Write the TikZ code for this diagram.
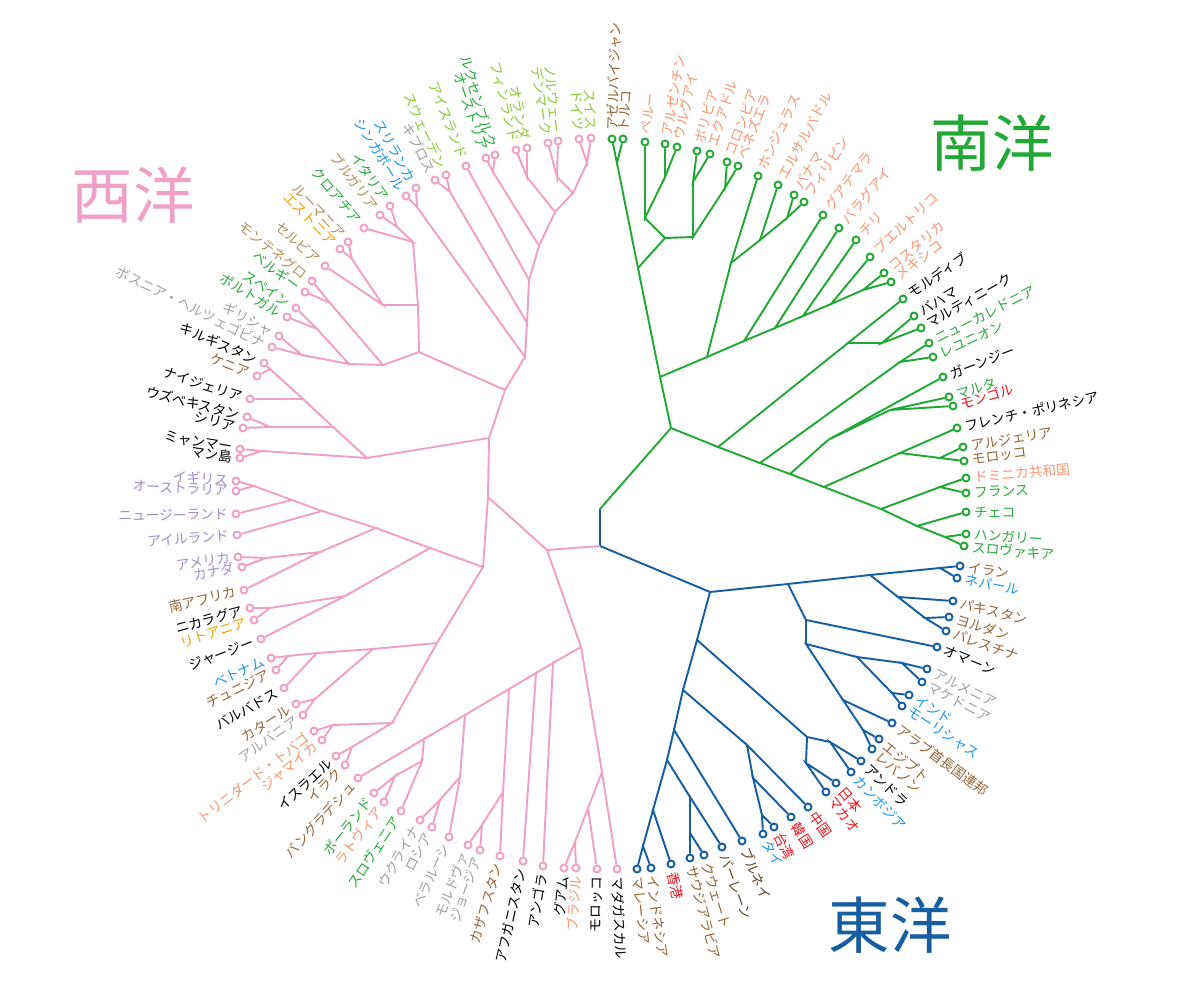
\documentclass[tikz,border=0pt]{standalone}
\usepackage{fontspec}
\setmainfont{Noto Sans CJK JP}
\usetikzlibrary{calc}
\definecolor{pinkbr}{RGB}{240,160,196}
\definecolor{grnbr}{RGB}{34,168,52}
\definecolor{blubr}{RGB}{22,94,160}
\definecolor{cBrown}{RGB}{150,100,55}
\definecolor{cDark}{RGB}{90,70,40}
\definecolor{cSalmon}{RGB}{246,150,115}
\definecolor{cGreen}{RGB}{40,170,60}
\definecolor{cLime}{RGB}{140,200,60}
\definecolor{cRed}{RGB}{235,20,30}
\definecolor{cCyan}{RGB}{30,150,230}
\definecolor{cGray}{RGB}{160,160,160}
\definecolor{cPurple}{RGB}{160,140,200}
\definecolor{cOrange}{RGB}{240,160,0}
\definecolor{cTan}{RGB}{175,145,90}
\newcommand{\lblfont}{\fontsize{7.8}{8}\selectfont}
\tikzset{
  tip/.style={circle, draw, fill=white, line width=1.1pt,
              minimum size=0.14cm, inner sep=0pt},
  lbl/.style={font=\lblfont, inner sep=0.5pt},
  brG/.style={draw=grnbr, line width=1.1pt},
  brB/.style={draw=blubr, line width=1.1pt},
  brP/.style={draw=pinkbr, line width=1.1pt},
  title/.style={font=\fontsize{35}{40}\selectfont}
}
% leaf: name, x, y, label colour, text
\newcommand{\tipnode}[5]{%
  \pgfmathsetmacro{\ang}{atan2(509-#3,#2-600)}%
  \pgfmathsetmacro{\lx}{#2+7*cos(\ang)}%
  \pgfmathsetmacro{\ly}{#3-7*sin(\ang)}%
  \pgfmathtruncatemacro{\flip}{cos(\ang)<0}%
  \node[tip, draw=\clade] (#1) at (#2,#3) {};%
  \ifnum\flip=1
    \node[lbl, text=#4, rotate=\ang+180, anchor=east] at (\lx,\ly) {#5};%
  \else
    \node[lbl, text=#4, rotate=\ang, anchor=west] at (\lx,\ly) {#5};%
  \fi}

\begin{document}
\begin{tikzpicture}[x=0.02cm, y=-0.02cm]
\useasboundingbox (0,0) rectangle (1200,999);

% --- titles ---
\node[title, text=pinkbr] (tw) at (133,195) {西洋};
\node[title, text=grnbr] (ts) at (992,143) {南洋};
\node[title, text=blubr] (te) at (890,925) {東洋};

% --- green leaves ---
\def\clade{grnbr}
\tipnode{aze}{612}{139}{cBrown}{アゼルバイジャン}
\tipnode{tur}{623}{139}{cBrown}{トルコ}
\tipnode{per}{645}{142}{cSalmon}{ペルー}
\tipnode{arg}{665}{144}{cSalmon}{アルゼンチン}
\tipnode{uru}{677}{147}{cSalmon}{ウルグアイ}
\tipnode{bol}{697}{151}{cSalmon}{ボリビア}
\tipnode{ecu}{710}{154}{cSalmon}{エクアドル}
\tipnode{col}{727}{162}{cSalmon}{コロンビア}
\tipnode{ven}{738}{166}{cSalmon}{ベネズエラ}
\tipnode{hon}{758}{176}{cSalmon}{ホンジュラス}
\tipnode{els}{778}{185}{cSalmon}{エルサルバドル}
\tipnode{pan}{794}{195}{cSalmon}{パナマ}
\tipnode{phi}{804}{202}{cSalmon}{フィリピン}
\tipnode{gua}{823}{215}{cSalmon}{グアテマラ}
\tipnode{par}{839}{228}{cSalmon}{パラグアイ}
\tipnode{chi}{856}{240}{cSalmon}{チリ}
\tipnode{pue}{870}{257}{cSalmon}{プエルトリコ}
\tipnode{cos}{884}{273}{cSalmon}{コスタリカ}
\tipnode{mex}{891}{282}{cSalmon}{メキシコ}
\tipnode{mdv}{903}{299}{black}{モルディブ}
\tipnode{bah}{914}{316}{black}{バハマ}
\tipnode{mtq}{921}{328}{black}{マルティニーク}
\tipnode{ncl}{929}{343}{cGreen}{ニューカレドニア}
\tipnode{reu}{933}{357}{cGreen}{レユニオン}
\tipnode{ggy}{943}{377}{black}{ガーンジー}
\tipnode{mlt}{949}{397}{cGreen}{マルタ}
\tipnode{mng}{953}{406}{cRed}{モンゴル}
\tipnode{pyf}{957}{428}{black}{フレンチ・ポリネシア}
\tipnode{alg}{963}{447}{cBrown}{アルジェリア}
\tipnode{mar}{964}{461}{cBrown}{モロッコ}
\tipnode{dom}{966}{478}{cSalmon}{ドミニカ共和国}
\tipnode{fra}{966}{493}{cGreen}{フランス}
\tipnode{cze}{966}{512}{cGreen}{チェコ}
\tipnode{hun}{966}{534}{cGreen}{ハンガリー}
\tipnode{svk}{964}{546}{cGreen}{スロヴァキア}

% --- blue leaves ---
\def\clade{blubr}
\tipnode{irn}{960}{566}{cBrown}{イラン}
\tipnode{npl}{957}{578}{cCyan}{ネパール}
\tipnode{pak}{953}{601}{cBrown}{パキスタン}
\tipnode{jor}{949}{617}{cBrown}{ヨルダン}
\tipnode{pse}{946}{631}{cBrown}{パレスチナ}
\tipnode{omn}{937}{647}{black}{オマーン}
\tipnode{arm}{927}{669}{cGray}{アルメニア}
\tipnode{mkd}{922}{682}{cGray}{マケドニア}
\tipnode{ind}{909}{695}{cCyan}{インド}
\tipnode{mus}{902}{706}{cCyan}{モーリシャス}
\tipnode{are}{892}{723}{cBrown}{アラブ首長国連邦}
\tipnode{egy}{879}{739}{cBrown}{エジプト}
\tipnode{lbn}{872}{749}{cBrown}{レバノン}
\tipnode{adr}{861}{761}{black}{アンドラ}
\tipnode{khm}{851}{772}{cCyan}{カンボジア}
\tipnode{jpn}{836}{783}{cRed}{日本}
\tipnode{mac}{826}{792}{cRed}{マカオ}
\tipnode{chn}{808}{807}{cRed}{中国}
\tipnode{kor}{791}{817}{cRed}{韓国}
\tipnode{twn}{774}{827}{cRed}{台湾}
\tipnode{tha}{763}{834}{cCyan}{タイ}
\tipnode{brn}{742}{841}{cDark}{ブルネイ}
\tipnode{bhr}{722}{847}{cDark}{バーレーン}
\tipnode{kwt}{704}{855}{cBrown}{クウェート}
\tipnode{sau}{690}{858}{cBrown}{サウジアラビア}
\tipnode{hkg}{671}{864}{cRed}{香港}
\tipnode{idn}{651}{868}{cBrown}{インドネシア}
\tipnode{mys}{637}{869}{cBrown}{マレーシア}

% --- pink leaves ---
\def\clade{pinkbr}
\tipnode{mdg}{617}{869}{black}{マダガスカル}
\tipnode{mrc}{597}{869}{black}{モロッコ}
\tipnode{bra}{576}{868}{cSalmon}{ブラジル}
\tipnode{gum}{564}{868}{black}{グアム}
\tipnode{ago}{543}{866}{black}{アンゴラ}
\tipnode{afg}{523}{861}{black}{アフガニスタン}
\tipnode{kaz}{500}{856}{cBrown}{カザフスタン}
\tipnode{geo}{480}{850}{cGray}{ジョージア}
\tipnode{mda}{468}{845}{cGray}{モルドヴァ}
\tipnode{blr}{449}{837}{cGray}{ベラルーシ}
\tipnode{rus}{432}{827}{cGray}{ロシア}
\tipnode{ukr}{420}{820}{cGray}{ウクライナ}
\tipnode{svn}{401}{811}{cGreen}{スロヴェニア}
\tipnode{lva}{384}{802}{cSalmon}{ラトヴィア}
\tipnode{pol}{374}{793}{cGreen}{ポーランド}
\tipnode{bgd}{358}{778}{cBrown}{バングラデシュ}
\tipnode{irq}{345}{765}{cBrown}{イラク}
\tipnode{isr}{336}{756}{black}{イスラエル}
\tipnode{jam}{322}{740}{cSalmon}{ジャマイカ}
\tipnode{tto}{314}{731}{cSalmon}{トリニダード・トバゴ}
\tipnode{alb}{303}{715}{cGray}{アルバニア}
\tipnode{qat}{296}{704}{cBrown}{カタール}
\tipnode{brb}{284}{688}{black}{バルバドス}
\tipnode{tun}{276}{670}{cBrown}{チュニジア}
\tipnode{vnm}{271}{658}{cCyan}{ベトナム}
\tipnode{jey}{261}{639}{black}{ジャージー}
\tipnode{ltu}{254}{620}{cOrange}{リトアニア}
\tipnode{nic}{250}{608}{black}{ニカラグア}
\tipnode{zaf}{244}{590}{cBrown}{南アフリカ}
\tipnode{can}{242}{567}{cPurple}{カナダ}
\tipnode{usa}{238}{557}{cPurple}{アメリカ}
\tipnode{irl}{237}{535}{cPurple}{アイルランド}
\tipnode{nzl}{236}{514}{cPurple}{ニュージーランド}
\tipnode{aus}{236}{491}{cPurple}{オーストラリア}
\tipnode{gbr}{236}{481}{cPurple}{イギリス}
\tipnode{imn}{240}{458}{black}{マン島}
\tipnode{mmr}{240}{449}{black}{ミャンマー}
\tipnode{syr}{243}{428}{black}{シリア}
\tipnode{uzb}{247}{417}{black}{ウズベキスタン}
\tipnode{nga}{250}{399}{black}{ナイジェリア}
\tipnode{ken}{257}{376}{cBrown}{ケニア}
\tipnode{kgz}{264}{363}{black}{キルギスタン}
\tipnode{bih}{272}{347}{cGray}{ボスニア・ヘルツェゴビナ}
\tipnode{grc}{279}{336}{cGray}{ギリシャ}
\tipnode{prt}{287}{317}{cGreen}{ポルトガル}
\tipnode{esp}{296}{308}{cGreen}{スペイン}
\tipnode{bel}{305}{292}{cGreen}{ベルギー}
\tipnode{mne}{312}{281}{cTan}{モンテネグロ}
\tipnode{srb}{325}{266}{cTan}{セルビア}
\tipnode{est}{340}{249}{cOrange}{エストニア}
\tipnode{rou}{348}{242}{cTan}{ルーマニア}
\tipnode{hrv}{364}{228}{cGreen}{クロアチア}
\tipnode{bgr}{380}{215}{cTan}{ブルガリア}
\tipnode{ita}{390}{206}{cGreen}{イタリア}
\tipnode{sgp}{406}{196}{cCyan}{シンガポール}
\tipnode{lka}{416}{188}{cCyan}{スリランカ}
\tipnode{cyp}{435}{180}{cGray}{キプロス}
\tipnode{swe}{446}{175}{cLime}{スウェーデン}
\tipnode{isl}{466}{166}{cLime}{アイスランド}
\tipnode{aut}{486}{158}{cGreen}{オーストリア}
\tipnode{lux}{495}{155}{cGreen}{ルクセンブルク}
\tipnode{fin}{516}{150}{cLime}{フィンランド}
\tipnode{nld}{527}{148}{cLime}{オランダ}
\tipnode{dnk}{548}{143}{cLime}{デンマーク}
\tipnode{nor}{558}{141}{cLime}{ノルウェー}
\tipnode{deu}{579}{139}{cLime}{ドイツ}
\tipnode{che}{591}{138}{cLime}{スイス}

% --- internal nodes: green ---
\coordinate (r0) at (600,509);
\coordinate (g0) at (671,428);
\coordinate (g1) at (660,377);
\coordinate (g2) at (638,268);
\coordinate (g3) at (617,163);
\coordinate (g4) at (665,238);
\coordinate (g5) at (645,218);
\coordinate (g7) at (665,177);
\coordinate (g6) at (693,237);
\coordinate (g8) at (693,182);
\coordinate (g9) at (725,188);
\coordinate (la0) at (707,357);
\coordinate (la1) at (744,341);
\coordinate (la2) at (775,328);
\coordinate (la3) at (803,316);
\coordinate (la4) at (831,304);
\coordinate (la5) at (863,290);
\coordinate (gH) at (731,263);
\coordinate (gE) at (760,240);
\coordinate (gPF) at (787,218);
\coordinate (gA) at (718,447);
\coordinate (gB) at (848,343);
\coordinate (gC) at (882,343);
\coordinate (gS1) at (760,463);
\coordinate (gNR) at (900,362);
\coordinate (gS2) at (790,474);
\coordinate (gGG) at (828,440);
\coordinate (gMM) at (890,410);
\coordinate (gS3) at (824,487);
\coordinate (gFA) at (900,453);
\coordinate (gAM) at (940,458);
\coordinate (gSE) at (881,509);
\coordinate (gDF) at (940,487);
\coordinate (gCH) at (917,526);
\coordinate (gHS) at (945,537);

% --- internal nodes: blue ---
\coordinate (b0) at (600,546);
\coordinate (b1) at (710,592);
\coordinate (bM) at (788,584);
\coordinate (bX) at (697,640);
\coordinate (bN10) at (870,575);
\coordinate (bN11) at (940,568);
\coordinate (bN12) at (898,597);
\coordinate (bN13) at (925,618);
\coordinate (bO) at (806,620);
\coordinate (bO2) at (806,644);
\coordinate (bAm) at (857,657);
\coordinate (bAr) at (902,663);
\coordinate (bIn) at (892,693);
\coordinate (bAe) at (843,700);
\coordinate (bEg) at (863,730);
\coordinate (bJp) at (807,737);
\coordinate (bAk) at (830,742);
\coordinate (bJm) at (806,763);
\coordinate (bYy) at (683,690);
\coordinate (bN7) at (747,745);
\coordinate (bN8) at (753,778);
\coordinate (bN9) at (762,815);
\coordinate (bN1) at (674,730);
\coordinate (bN2) at (667,760);
\coordinate (bN3) at (653,810);
\coordinate (bN5) at (643,846);
\coordinate (bN4) at (690,797);
\coordinate (bN6) at (690,833);

% --- internal nodes: pink ---
\coordinate (p0) at (547,550);
\coordinate (p1) at (488,497);
\coordinate (p2) at (489,438);
\coordinate (p3) at (483,567);
\coordinate (pL0) at (581,647);
\coordinate (pM1) at (602,772);
\coordinate (pM2) at (588,808);
\coordinate (pM3) at (575,842);
\coordinate (pL1) at (553,663);
\coordinate (pL2) at (536,673);
\coordinate (pL3) at (509,689);
\coordinate (pKZ) at (503,792);
\coordinate (pGM) at (482,825);
\coordinate (pL4) at (465,715);
\coordinate (pBR) at (460,777);
\coordinate (pRU) at (440,800);
\coordinate (pL5) at (424,739);
\coordinate (pSP) at (422,761);
\coordinate (pPL) at (395,776);
\coordinate (pDn) at (437,643);
\coordinate (pVV) at (373,649);
\coordinate (pVB) at (317,653);
\coordinate (pVT) at (288,656);
\coordinate (pAQ) at (315,699);
\coordinate (pJI) at (392,723);
\coordinate (pII) at (352,747);
\coordinate (pTJ) at (333,725);
\coordinate (pLC) at (430,548);
\coordinate (pNJ) at (345,596);
\coordinate (pNL) at (270,608);
\coordinate (pPU) at (376,528);
\coordinate (pGI) at (322,511);
\coordinate (pGN) at (292,500);
\coordinate (pGA) at (254,486);
\coordinate (pUZ) at (320,552);
\coordinate (pUC) at (266,558);
\coordinate (pUP) at (505,390);
\coordinate (pWL) at (367,458);
\coordinate (pMI) at (262,451);
\coordinate (pSY) at (333,427);
\coordinate (pSU) at (270,427);
\coordinate (pNK) at (303,399);
\coordinate (pKK) at (270,369);
\coordinate (pN5) at (525,357);
\coordinate (pN4) at (527,323);
\coordinate (pN3) at (529,280);
\coordinate (pN2) at (539,246);
\coordinate (pN1) at (555,212);
\coordinate (pSDN) at (573,193);
\coordinate (pSD) at (587,163);
\coordinate (pND) at (557,177);
\coordinate (pFN) at (527,177);
\coordinate (pLA) at (493,172);
\coordinate (pSC) at (450,192);
\coordinate (pSS) at (417,207);
\coordinate (pB3) at (419,352);
\coordinate (pB2) at (418,305);
\coordinate (pB1) at (383,305);
\coordinate (pRE) at (352,259);
\coordinate (pHI) at (413,242);
\coordinate (pIB) at (397,227);
\coordinate (pMPG) at (383,365);
\coordinate (pMB) at (330,303);
\coordinate (pPG) at (349,364);
\coordinate (pPE) at (317,329);
\coordinate (pGB) at (302,355);

% --- green branches ---
\draw[brG] (r0) -- (g0);
\draw[brG] (g1) -- (g0) -- (gA);
\draw[brG] (g2) -- (g1) -- (la0);
\draw[brG] (g3) -- (g2) -- (g4);
\draw[brG] (aze) -- (g3) -- (tur);
\draw[brG] (g5) -- (g4) -- (g6);
\draw[brG] (per) -- (g5) -- (g7);
\draw[brG] (arg) -- (g7) -- (uru);
\draw[brG] (g8) -- (g6) -- (g9);
\draw[brG] (bol) -- (g8) -- (ecu);
\draw[brG] (col) -- (g9) -- (ven);
\draw[brG] (gH) -- (la0) -- (la1);
\draw[brG] (hon) -- (gH) -- (gE);
\draw[brG] (els) -- (gE) -- (gPF);
\draw[brG] (pan) -- (gPF) -- (phi);
\draw[brG] (gua) -- (la1) -- (la2);
\draw[brG] (par) -- (la2) -- (la3);
\draw[brG] (chi) -- (la3) -- (la4);
\draw[brG] (pue) -- (la4) -- (la5);
\draw[brG] (cos) -- (la5) -- (mex);
\draw[brG] (gB) -- (gA) -- (gS1);
\draw[brG] (mdv) -- (gB) -- (gC);
\draw[brG] (bah) -- (gC) -- (mtq);
\draw[brG] (gNR) -- (gS1) -- (gS2);
\draw[brG] (ncl) -- (gNR) -- (reu);
\draw[brG] (gGG) -- (gS2) -- (gS3);
\draw[brG] (ggy) -- (gGG) -- (gMM);
\draw[brG] (mlt) -- (gMM) -- (mng);
\draw[brG] (gFA) -- (gS3) -- (gSE);
\draw[brG] (pyf) -- (gFA) -- (gAM);
\draw[brG] (alg) -- (gAM) -- (mar);
\draw[brG] (gDF) -- (gSE) -- (gCH);
\draw[brG] (dom) -- (gDF) -- (fra);
\draw[brG] (cze) -- (gCH) -- (gHS);
\draw[brG] (hun) -- (gHS) -- (svk);

% --- blue branches ---
\draw[brB] (r0) -- (b0) -- (b1);
\draw[brB] (bM) -- (b1) -- (bX);
\draw[brB] (bN10) -- (bM) -- (bO);
\draw[brB] (bN11) -- (bN10) -- (bN12);
\draw[brB] (irn) -- (bN11) -- (npl);
\draw[brB] (pak) -- (bN12) -- (bN13);
\draw[brB] (jor) -- (bN13) -- (pse);
\draw[brB] (omn) -- (bO) -- (bO2);
\draw[brB] (bAm) -- (bO2) -- (bAe);
\draw[brB] (bAr) -- (bAm) -- (bIn);
\draw[brB] (arm) -- (bAr) -- (mkd);
\draw[brB] (ind) -- (bIn) -- (mus);
\draw[brB] (are) -- (bAe) -- (bEg);
\draw[brB] (egy) -- (bEg) -- (lbn);
\draw[brB] (bJp) -- (bX) -- (bYy);
\draw[brB] (bAk) -- (bJp) -- (bJm);
\draw[brB] (adr) -- (bAk) -- (khm);
\draw[brB] (jpn) -- (bJm) -- (mac);
\draw[brB] (bN7) -- (bYy) -- (bN1);
\draw[brB] (chn) -- (bN7) -- (bN8);
\draw[brB] (kor) -- (bN8) -- (bN9);
\draw[brB] (tha) -- (bN9) -- (twn);
\draw[brB] (brn) -- (bN1) -- (bN2);
\draw[brB] (bN3) -- (bN2) -- (bN4);
\draw[brB] (hkg) -- (bN3) -- (bN5);
\draw[brB] (mys) -- (bN5) -- (idn);
\draw[brB] (bhr) -- (bN4) -- (bN6);
\draw[brB] (sau) -- (bN6) -- (kwt);

% --- pink branches ---
\draw[brP] (b0) -- (p0);
\draw[brP] (p1) -- (p0) -- (pL0);
\draw[brP] (pM1) -- (pL0) -- (pL1);
\draw[brP] (mdg) -- (pM1) -- (pM2);
\draw[brP] (mrc) -- (pM2) -- (pM3);
\draw[brP] (bra) -- (pM3) -- (gum);
\draw[brP] (ago) -- (pL1) -- (pL2);
\draw[brP] (afg) -- (pL2) -- (pL3);
\draw[brP] (pKZ) -- (pL3) -- (pL4);
\draw[brP] (kaz) -- (pKZ) -- (pGM);
\draw[brP] (geo) -- (pGM) -- (mda);
\draw[brP] (pBR) -- (pL4) -- (pL5);
\draw[brP] (blr) -- (pBR) -- (pRU);
\draw[brP] (rus) -- (pRU) -- (ukr);
\draw[brP] (pSP) -- (pL5) -- (bgd);
\draw[brP] (svn) -- (pSP) -- (pPL);
\draw[brP] (pol) -- (pPL) -- (lva);
\draw[brP] (p2) -- (p1) -- (p3);
\draw[brP] (pDn) -- (p3) -- (pLC);
\draw[brP] (pVV) -- (pDn) -- (pJI);
\draw[brP] (pVB) -- (pVV) -- (pAQ);
\draw[brP] (brb) -- (pVB) -- (pVT);
\draw[brP] (vnm) -- (pVT) -- (tun);
\draw[brP] (alb) -- (pAQ) -- (qat);
\draw[brP] (pII) -- (pJI) -- (pTJ);
\draw[brP] (isr) -- (pII) -- (irq);
\draw[brP] (tto) -- (pTJ) -- (jam);
\draw[brP] (pNJ) -- (pLC) -- (pPU);
\draw[brP] (jey) -- (pNJ) -- (pNL);
\draw[brP] (nic) -- (pNL) -- (ltu);
\draw[brP] (pGI) -- (pPU) -- (pUZ);
\draw[brP] (irl) -- (pGI) -- (pGN);
\draw[brP] (nzl) -- (pGN) -- (pGA);
\draw[brP] (gbr) -- (pGA) -- (aus);
\draw[brP] (zaf) -- (pUZ) -- (pUC);
\draw[brP] (usa) -- (pUC) -- (can);
\draw[brP] (pUP) -- (p2) -- (pWL);
\draw[brP] (pMI) -- (pWL) -- (pSY);
\draw[brP] (mmr) -- (pMI) -- (imn);
\draw[brP] (pSU) -- (pSY) -- (pNK);
\draw[brP] (syr) -- (pSU) -- (uzb);
\draw[brP] (nga) -- (pNK) -- (pKK);
\draw[brP] (kgz) -- (pKK) -- (ken);
\draw[brP] (pN5) -- (pUP) -- (pB3);
\draw[brP] (pN4) -- (pN5) -- (pSS);
\draw[brP] (pN3) -- (pN4) -- (pSC);
\draw[brP] (pN2) -- (pN3) -- (isl);
\draw[brP] (pN1) -- (pN2) -- (pLA);
\draw[brP] (pSDN) -- (pN1) -- (pFN);
\draw[brP] (pSD) -- (pSDN) -- (pND);
\draw[brP] (che) -- (pSD) -- (deu);
\draw[brP] (nor) -- (pND) -- (dnk);
\draw[brP] (fin) -- (pFN) -- (nld);
\draw[brP] (lux) -- (pLA) -- (aut);
\draw[brP] (swe) -- (pSC) -- (cyp);
\draw[brP] (sgp) -- (pSS) -- (lka);
\draw[brP] (pB2) -- (pB3) -- (pMPG);
\draw[brP] (pB1) -- (pB2) -- (pHI);
\draw[brP] (pRE) -- (pB1) -- (srb);
\draw[brP] (rou) -- (pRE) -- (est);
\draw[brP] (pIB) -- (pHI) -- (hrv);
\draw[brP] (ita) -- (pIB) -- (bgr);
\draw[brP] (pMB) -- (pMPG) -- (pPG);
\draw[brP] (mne) -- (pMB) -- (bel);
\draw[brP] (pPE) -- (pPG) -- (pGB);
\draw[brP] (prt) -- (pPE) -- (esp);
\draw[brP] (grc) -- (pGB) -- (bih);

\end{tikzpicture}
\end{document}
